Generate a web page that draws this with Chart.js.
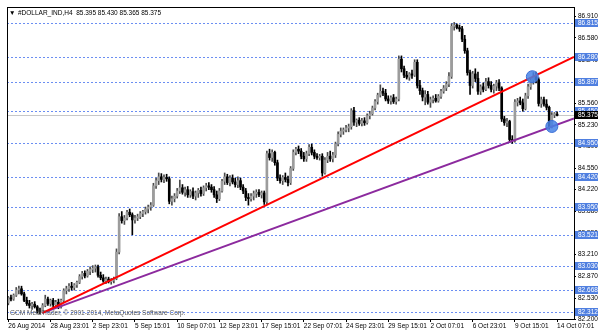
<!DOCTYPE html>
<html>
<head>
<meta charset="utf-8">
<script src="https://cdn.jsdelivr.net/npm/chart.js@4.4.1/dist/chart.umd.min.js"></script>
<style>
  html, body { margin: 0; padding: 0; background: #fff; }
  #wrap { width: 600px; height: 333px; }
</style>
</head>
<body>
<div id="wrap"><canvas id="chart" width="600" height="333"></canvas></div>
<script>
// ── Data ──────────────────────────────────────────────────────────
const symbolTitle = '#DOLLAR_IND,H4  85.395 85.430 85.365 85.375';
const copyright   = 'GCM MetaTrader, \u00a9 2001-2014, MetaQuotes Software Corp.';

const timeLabels = [
  '26 Aug 2014', '28 Aug 23:01', '2 Sep 23:01', '5 Sep 15:01', '10 Sep 07:01',
  '12 Sep 23:01', '17 Sep 15:01', '22 Sep 07:01', '24 Sep 23:01', '29 Sep 15:01',
  '2 Oct 07:01', '6 Oct 23:01', '9 Oct 15:01', '14 Oct 07:01',
];
const barsPerLabel = 16;

const priceTicks = [86.91, 86.58, 86.24, 85.90, 85.56, 85.23, 84.89, 84.55, 84.22, 83.88, 83.55, 83.21, 82.87, 82.53, 82.20];
const levels     = [86.815, 86.280, 85.897, 85.450, 84.950, 84.420, 83.950, 83.521, 83.030, 82.668, 82.312];
const lastPrice  = 85.375;

// trendlines / markers in (bar index, price)
const redLine    = [{ x: 13.0, y: 82.306 }, { x: 214.4, y: 86.285 }];
const purpleLine = [{ x: 13.0, y: 82.306 }, { x: 214.4, y: 85.328 }];
const markers    = [{ x: 198.6, y: 85.976 }, { x: 206.0, y: 85.203 }];

// H4 candles: [open, high, low, close]
const candles = [
  [82.46,82.56,82.43,82.54],[82.54,82.58,82.49,82.52],[82.52,82.60,82.50,82.58],[82.58,82.70,82.56,82.66],
  [82.66,82.72,82.60,82.68],[82.68,82.72,82.58,82.60],[82.60,82.63,82.48,82.50],[82.50,82.55,82.42,82.45],
  [82.45,82.50,82.38,82.42],[82.42,82.47,82.36,82.44],[82.44,82.48,82.38,82.40],[82.40,82.42,82.30,82.33],
  [82.33,82.38,82.29,82.31],[82.31,82.45,82.30,82.42],[82.42,82.58,82.40,82.52],[82.52,82.55,82.42,82.45],
  [82.45,82.52,82.41,82.50],[82.50,82.53,82.40,82.43],[82.43,82.50,82.39,82.47],[82.47,82.52,82.37,82.40],
  [82.40,82.52,82.38,82.50],[82.50,82.68,82.48,82.65],[82.65,82.72,82.60,82.68],[82.68,82.76,82.64,82.72],
  [82.72,82.78,82.66,82.70],[82.70,82.76,82.66,82.74],[82.74,82.80,82.70,82.78],[82.78,82.90,82.76,82.87],
  [82.87,82.95,82.83,82.92],[82.92,82.96,82.85,82.88],[82.88,82.98,82.86,82.95],[82.95,83.02,82.90,82.98],
  [82.98,83.04,82.93,83.00],[83.00,83.05,82.94,83.02],[83.02,83.05,82.86,82.89],[82.89,82.94,82.82,82.85],
  [82.85,82.90,82.78,82.80],[82.80,82.86,82.76,82.83],[82.83,82.86,82.77,82.79],[82.79,82.84,82.75,82.81],
  [82.81,82.86,82.77,82.84],[82.84,83.30,82.82,83.25],[83.25,83.85,83.22,83.80],[83.80,83.88,83.70,83.74],
  [83.74,83.82,83.68,83.78],[83.78,83.90,83.75,83.87],[83.87,83.92,83.80,83.83],[83.83,83.86,83.52,83.75],
  [83.75,83.82,83.70,83.78],[83.78,83.84,83.74,83.80],[83.80,83.88,83.77,83.85],[83.85,83.90,83.80,83.88],
  [83.88,83.95,83.84,83.92],[83.92,83.98,83.86,83.95],[83.95,84.02,83.90,83.98],[83.98,84.32,83.96,84.28],
  [84.28,84.40,84.24,84.36],[84.36,84.48,84.30,84.42],[84.42,84.47,84.34,84.38],[84.38,84.45,84.33,84.41],
  [84.41,84.46,84.35,84.39],[84.39,84.42,84.00,84.04],[84.04,84.12,83.98,84.08],[84.08,84.16,84.03,84.12],
  [84.12,84.24,84.09,84.20],[84.20,84.37,84.16,84.25],[84.25,84.30,84.15,84.18],[84.18,84.26,84.12,84.22],
  [84.22,84.27,84.10,84.14],[84.14,84.22,84.10,84.19],[84.19,84.25,84.08,84.12],[84.12,84.20,84.06,84.17],
  [84.17,84.24,84.10,84.21],[84.21,84.26,84.12,84.16],[84.16,84.28,84.13,84.25],[84.25,84.32,84.20,84.28],
  [84.28,84.33,84.22,84.26],[84.26,84.30,84.18,84.22],[84.22,84.27,84.10,84.14],[84.14,84.20,84.02,84.08],
  [84.08,84.24,84.05,84.20],[84.20,84.38,84.18,84.35],[84.35,84.48,84.30,84.42],[84.42,84.46,84.30,84.33],
  [84.33,84.44,84.28,84.40],[84.40,84.45,84.31,84.34],[84.34,84.40,84.26,84.30],[84.30,84.42,84.25,84.36],
  [84.36,84.40,84.22,84.26],[84.26,84.30,84.16,84.20],[84.20,84.24,84.05,84.10],[84.10,84.16,83.98,84.08],
  [84.08,84.16,84.04,84.12],[84.12,84.20,84.06,84.16],[84.16,84.22,84.10,84.18],[84.18,84.22,84.11,84.14],
  [84.14,84.20,84.09,84.17],[84.17,84.20,83.99,84.03],[84.03,84.82,84.00,84.78],[84.78,84.85,84.68,84.72],
  [84.72,84.84,84.66,84.80],[84.80,84.82,84.60,84.64],[84.64,84.68,84.36,84.40],[84.40,84.45,84.32,84.36],
  [84.36,84.44,84.30,84.41],[84.41,84.48,84.34,84.38],[84.38,84.43,84.28,84.33],[84.33,84.58,84.30,84.55],
  [84.55,84.84,84.52,84.80],[84.80,84.88,84.76,84.85],[84.85,84.90,84.78,84.82],[84.82,84.86,84.70,84.74],
  [84.74,84.80,84.66,84.70],[84.70,84.82,84.66,84.78],[84.78,84.92,84.75,84.88],[84.88,84.93,84.76,84.80],
  [84.80,84.84,84.70,84.74],[84.74,84.78,84.69,84.72],[84.72,84.77,84.68,84.74],[84.74,84.78,84.43,84.48],
  [84.48,84.72,84.46,84.68],[84.68,84.80,84.64,84.74],[84.74,84.82,84.66,84.70],[84.70,84.80,84.65,84.76],
  [84.76,84.96,84.72,84.93],[84.93,85.12,84.90,85.08],[85.08,85.18,85.04,85.13],[85.13,85.18,85.08,85.15],
  [85.15,85.22,85.12,85.18],[85.18,85.24,85.12,85.20],[85.20,85.48,85.16,85.45],[85.45,85.50,85.22,85.27],
  [85.27,85.32,85.20,85.30],[85.30,85.34,85.22,85.25],[85.25,85.33,85.21,85.29],[85.29,85.34,85.22,85.26],
  [85.26,85.40,85.24,85.37],[85.37,85.44,85.32,85.40],[85.40,85.52,85.38,85.49],[85.49,85.62,85.46,85.59],
  [85.59,85.72,85.55,85.69],[85.69,85.85,85.66,85.75],[85.75,85.80,85.68,85.72],[85.72,85.78,85.60,85.63],
  [85.63,85.68,85.56,85.60],[85.60,85.68,85.55,85.65],[85.65,85.70,85.56,85.59],[85.59,85.66,85.55,85.63],
  [85.63,86.30,85.60,86.25],[86.25,86.30,86.05,86.10],[86.10,86.14,85.96,86.00],[86.00,86.06,85.94,85.97],
  [85.97,86.04,85.92,86.02],[86.02,86.08,85.95,86.00],[86.00,86.24,85.98,86.20],[86.20,86.24,85.80,85.84],
  [85.84,85.92,85.70,85.76],[85.76,85.80,85.60,85.66],[85.66,85.76,85.54,85.70],[85.70,85.75,85.55,85.58],
  [85.58,85.66,85.50,85.62],[85.62,85.68,85.57,85.64],[85.64,85.70,85.58,85.60],[85.60,85.70,85.58,85.67],
  [85.67,85.78,85.64,85.75],[85.75,85.84,85.72,85.80],[85.80,85.90,85.76,85.86],[85.86,86.04,85.82,85.98],
  [85.98,86.80,85.95,86.76],[86.76,86.82,86.70,86.78],[86.78,86.80,86.72,86.74],[86.74,86.78,86.68,86.72],
  [86.72,86.76,86.52,86.56],[86.56,86.62,86.34,86.38],[86.38,86.42,86.00,86.04],[86.04,86.08,85.70,85.84],
  [85.84,86.06,85.80,86.02],[86.02,86.10,85.90,85.95],[85.95,86.05,85.70,85.75],[85.75,85.85,85.70,85.82],
  [85.82,85.88,85.74,85.78],[85.78,85.95,85.76,85.90],[85.90,85.96,85.80,85.84],[85.84,85.90,85.74,85.78],
  [85.78,85.86,85.72,85.83],[85.83,85.92,85.76,85.88],[85.88,85.93,85.76,85.80],[85.80,85.82,85.28,85.32],
  [85.32,85.36,85.22,85.26],[85.26,85.33,85.20,85.28],[85.28,85.30,84.96,85.00],[85.00,85.06,84.94,84.98],
  [84.98,85.62,84.96,85.58],[85.58,85.64,85.52,85.60],[85.60,85.66,85.54,85.57],[85.57,85.63,85.44,85.48],
  [85.48,85.72,85.46,85.68],[85.68,85.86,85.64,85.82],[85.82,85.96,85.78,85.92],[85.92,86.04,85.86,85.98],
  [85.98,86.05,85.88,85.93],[85.93,85.96,85.52,85.56],[85.56,85.66,85.50,85.62],[85.62,85.66,85.52,85.55],
  [85.55,85.62,85.46,85.50],[85.50,85.52,85.16,85.20],[85.20,85.42,85.18,85.38],[85.38,85.42,85.34,85.40],
  [85.395,85.43,85.365,85.375],
];

// ── Styling ───────────────────────────────────────────────────────
const FONT = 'Liberation Sans';
const clr = {
  bullBody: '#9c9c9c',
  bullWick: '#4a4a4a',
  bear:     '#000000',
  level:    '#6b8ef2',
  levelBox: '#4f7fe0',
  bid:      '#c8c8c8',
  red:      '#ff0000',
  purple:   '#8c2a9e',
  marker:   'rgba(70,130,230,0.85)',
  markerBd: '#3b6fd6',
};

const isUp = candles.map(c => c[3] >= c[0]);

// ── Decorations (levels, frame, header, price boxes) ─────────────
const chartDecor = {
  id: 'chartDecor',
  beforeDatasetsDraw(chart) {
    const { ctx, chartArea: a, scales: { y } } = chart;
    ctx.save();
    ctx.lineWidth = 1;
    ctx.setLineDash([2, 2]);
    ctx.strokeStyle = clr.level;
    levels.forEach(v => {
      const py = Math.round(y.getPixelForValue(v)) + 0.5;
      ctx.beginPath(); ctx.moveTo(a.left, py); ctx.lineTo(a.right, py); ctx.stroke();
    });
    ctx.setLineDash([]);
    ctx.strokeStyle = clr.bid;
    const by = Math.round(y.getPixelForValue(lastPrice)) + 0.5;
    ctx.beginPath(); ctx.moveTo(a.left, by); ctx.lineTo(a.right, by); ctx.stroke();
    ctx.restore();
  },
  afterDraw(chart) {
    const { ctx, chartArea: a, scales: { y } } = chart;
    ctx.save();
    // frame
    ctx.strokeStyle = '#000';
    ctx.lineWidth = 1;
    ctx.strokeRect(a.left + 0.5, a.top + 0.5, a.right - a.left, a.bottom - a.top);

    // header + watermark
    ctx.font = `6.5px "${FONT}"`;
    ctx.textBaseline = 'middle';
    ctx.fillStyle = '#000';
    ctx.fillText('\u25BC', a.left + 2, a.top + 6);
    ctx.fillText(symbolTitle, a.left + 11, a.top + 6);
    ctx.fillStyle = '#555';
    ctx.fillText(copyright, a.left + 3, a.bottom - 6);

    // level price boxes on the axis
    const boxX = a.right + 1, boxW = chart.width - boxX - 2;
    const box = (v, bg) => {
      const py = y.getPixelForValue(v);
      ctx.fillStyle = bg;
      ctx.fillRect(boxX, Math.round(py) - 4, boxW, 8);
      ctx.fillStyle = '#fff';
      ctx.fillText(v.toFixed(3), a.right + 4, Math.round(py) + 0.5);
    };
    levels.forEach(v => box(v, clr.levelBox));
    box(lastPrice, '#000');
    ctx.restore();
  },
};

// ── Chart ─────────────────────────────────────────────────────────
new Chart(document.getElementById('chart'), {
  type: 'bar',
  data: {
    datasets: [
      {
        type: 'scatter',
        label: 'Markers',
        data: markers,
        pointRadius: 6,
        pointBackgroundColor: clr.marker,
        pointBorderColor: clr.markerBd,
        pointBorderWidth: 1,
        order: 0,
      },
      {
        type: 'line',
        label: 'Resistance',
        data: redLine,
        borderColor: clr.red,
        borderWidth: 2,
        pointRadius: 0,
        order: 1,
      },
      {
        type: 'line',
        label: 'Support',
        data: purpleLine,
        borderColor: clr.purple,
        borderWidth: 2,
        pointRadius: 0,
        order: 1,
      },
      {
        label: 'Body',
        data: candles.map((c, i) => ({ x: i, y: [c[0], c[3]] })),
        backgroundColor: isUp.map(u => u ? clr.bullBody : clr.bear),
        barThickness: 2,
        minBarLength: 1,
        grouped: false,
        order: 2,
      },
      {
        label: 'Wick',
        data: candles.map((c, i) => ({ x: i, y: [c[2], c[1]] })),
        backgroundColor: isUp.map(u => u ? clr.bullWick : clr.bear),
        barThickness: 1,
        grouped: false,
        order: 3,
      },
    ],
  },
  options: {
    responsive: false,
    animation: false,
    devicePixelRatio: 1,
    layout: { padding: { left: 1, top: 1, right: 0, bottom: 0 } },
    plugins: { legend: { display: false }, tooltip: { enabled: false }, title: { display: false } },
    scales: {
      x: {
        type: 'linear',
        min: -0.5,
        max: 214.4,
        offset: false,
        grid: { drawOnChartArea: false, drawTicks: true, tickLength: 3, color: '#000', offset: false },
        border: { display: true, color: '#000' },
        afterBuildTicks: s => { s.ticks = timeLabels.map((_, k) => ({ value: k * barsPerLabel })); },
        afterFit: s => { s.height = 14; },
        ticks: {
          autoSkip: false,
          maxRotation: 0,
          align: 'start',
          padding: 0,
          color: '#000',
          font: { family: FONT, size: 6.5 },
          callback: (v, i) => timeLabels[i],
        },
      },
      y: {
        type: 'linear',
        position: 'right',
        min: 82.21,
        max: 87.06,
        grid: { drawOnChartArea: false, drawTicks: true, tickLength: 2, color: '#000' },
        border: { display: true, color: '#000' },
        afterBuildTicks: s => { s.ticks = priceTicks.map(v => ({ value: v })); },
        afterFit: s => { s.width = 26; },
        ticks: {
          autoSkip: false,
          padding: 2,
          color: '#000',
          font: { family: FONT, size: 6.5 },
          callback: v => v.toFixed(3),
        },
      },
    },
  },
  plugins: [chartDecor],
});
</script>
</body>
</html>
